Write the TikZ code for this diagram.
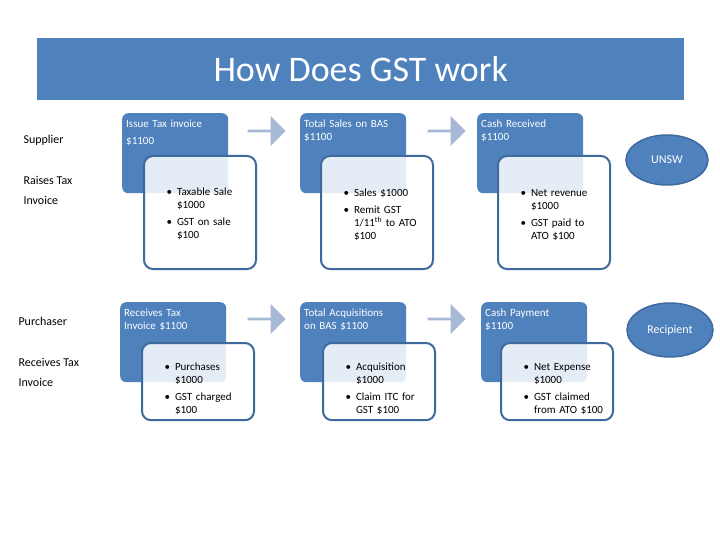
\documentclass[tikz,border=0pt]{standalone}
\usepackage{fontspec}
\setmainfont{Carlito}
\usetikzlibrary{shapes.arrows,shapes.geometric}
\definecolor{bar}{HTML}{4F81BD}
\definecolor{edge}{HTML}{3F6A9E}
\definecolor{arr}{HTML}{A7B9D6}
\tikzset{
 head/.style={fill=bar,rounded corners=6pt,minimum width=106pt,minimum height=80pt,text width=98pt,align=left,anchor=north west,inner sep=4pt,text=white,font=\fontsize{11}{13}\selectfont},
 body/.style={draw=edge,line width=2pt,fill=white,fill opacity=0.85,text opacity=1,rounded corners=9pt,minimum width=112pt,minimum height=112pt,text width=96pt,anchor=north west,inner sep=6pt,font=\fontsize{11}{13}\selectfont},
 flow/.style={single arrow,fill=arr,minimum height=38pt,minimum width=30pt,single arrow head extend=2pt,inner sep=0pt},
 oval/.style={ellipse,fill=bar,draw=edge,line width=1.5pt,text=white,font=\fontsize{12}{14}\selectfont},
 lab/.style={anchor=west,align=left,font=\fontsize{12}{20}\selectfont}
}
\newcommand{\blist}[1]{\begin{itemize}\setlength{\itemsep}{0pt}\setlength{\parsep}{0pt}\setlength{\topsep}{0pt}\setlength{\leftmargin}{12pt}#1\end{itemize}}
\begin{document}
\begin{tikzpicture}[x=1pt,y=-1pt]
\useasboundingbox (0,0) rectangle (720,540);
\node[fill=bar,minimum width=647pt,minimum height=62pt,anchor=north west,text=white,font=\fontsize{36}{40}\selectfont] (title) at (37,38) {How Does GST work};
\node[lab] (sup) at (20,140) {Supplier};
\node[lab] (rti) at (20,190) {Raises Tax\\Invoice};
\node[lab] (pur) at (15,321) {Purchaser};
\node[lab] (rcv) at (15,372) {Receives Tax\\Invoice};
% top row
\node[head] (h1) at (122,113) {Issue Tax invoice\\[4pt]\$1100\par\vspace{40pt}};
\node[body,minimum height=113pt] (b1) at (143,155) {\vspace{-2pt}\blist{\item Taxable Sale \$1000 \item GST on sale \$100}\vspace{50pt}};
\node[head] (h2) at (300,113) {Total Sales on BAS\\\$1100\par\vspace{44pt}};
\node[body,minimum height=113pt] (b2) at (320,155) {\blist{\item Sales \$1000 \item Remit GST 1/11\textsuperscript{th} to ATO \$100}\vspace{40pt}};
\node[head] (h3) at (477,113) {Cash Received\\\$1100\par\vspace{44pt}};
\node[body,minimum height=113pt] (b3) at (497,155) {\blist{\item Net revenue \$1000 \item GST paid to ATO \$100}\vspace{50pt}};
\node[flow] (a1) at (266,131) {};
\node[flow] (a2) at (446,131) {};
\node[oval,minimum width=82pt,minimum height=50pt] (unsw) at (667,160) {UNSW};
% bottom row
\node[head] (h4) at (120,302) {Receives Tax\\Invoice \$1100\par\vspace{44pt}};
\node[body,minimum height=70pt] (b4) at (141,342) {\blist{\item Purchases \$1000 \item GST charged \$100}};
\node[head] (h5) at (300,302) {Total Acquisitions\\on BAS \$1100\par\vspace{44pt}};
\node[body,minimum height=70pt] (b5) at (322,342) {\blist{\item Acquisition \$1000 \item Claim ITC for GST \$100}};
\node[head] (h6) at (481,302) {Cash Payment\\\$1100\par\vspace{44pt}};
\node[body,minimum height=70pt] (b6) at (500,342) {\blist{\item Net Expense \$1000 \item GST claimed from ATO \$100}};
\node[flow] (a3) at (266,319) {};
\node[flow] (a4) at (446,319) {};
\node[oval,minimum width=86pt,minimum height=54pt] (rec) at (670,330) {Recipient};
\end{tikzpicture}
\end{document}
